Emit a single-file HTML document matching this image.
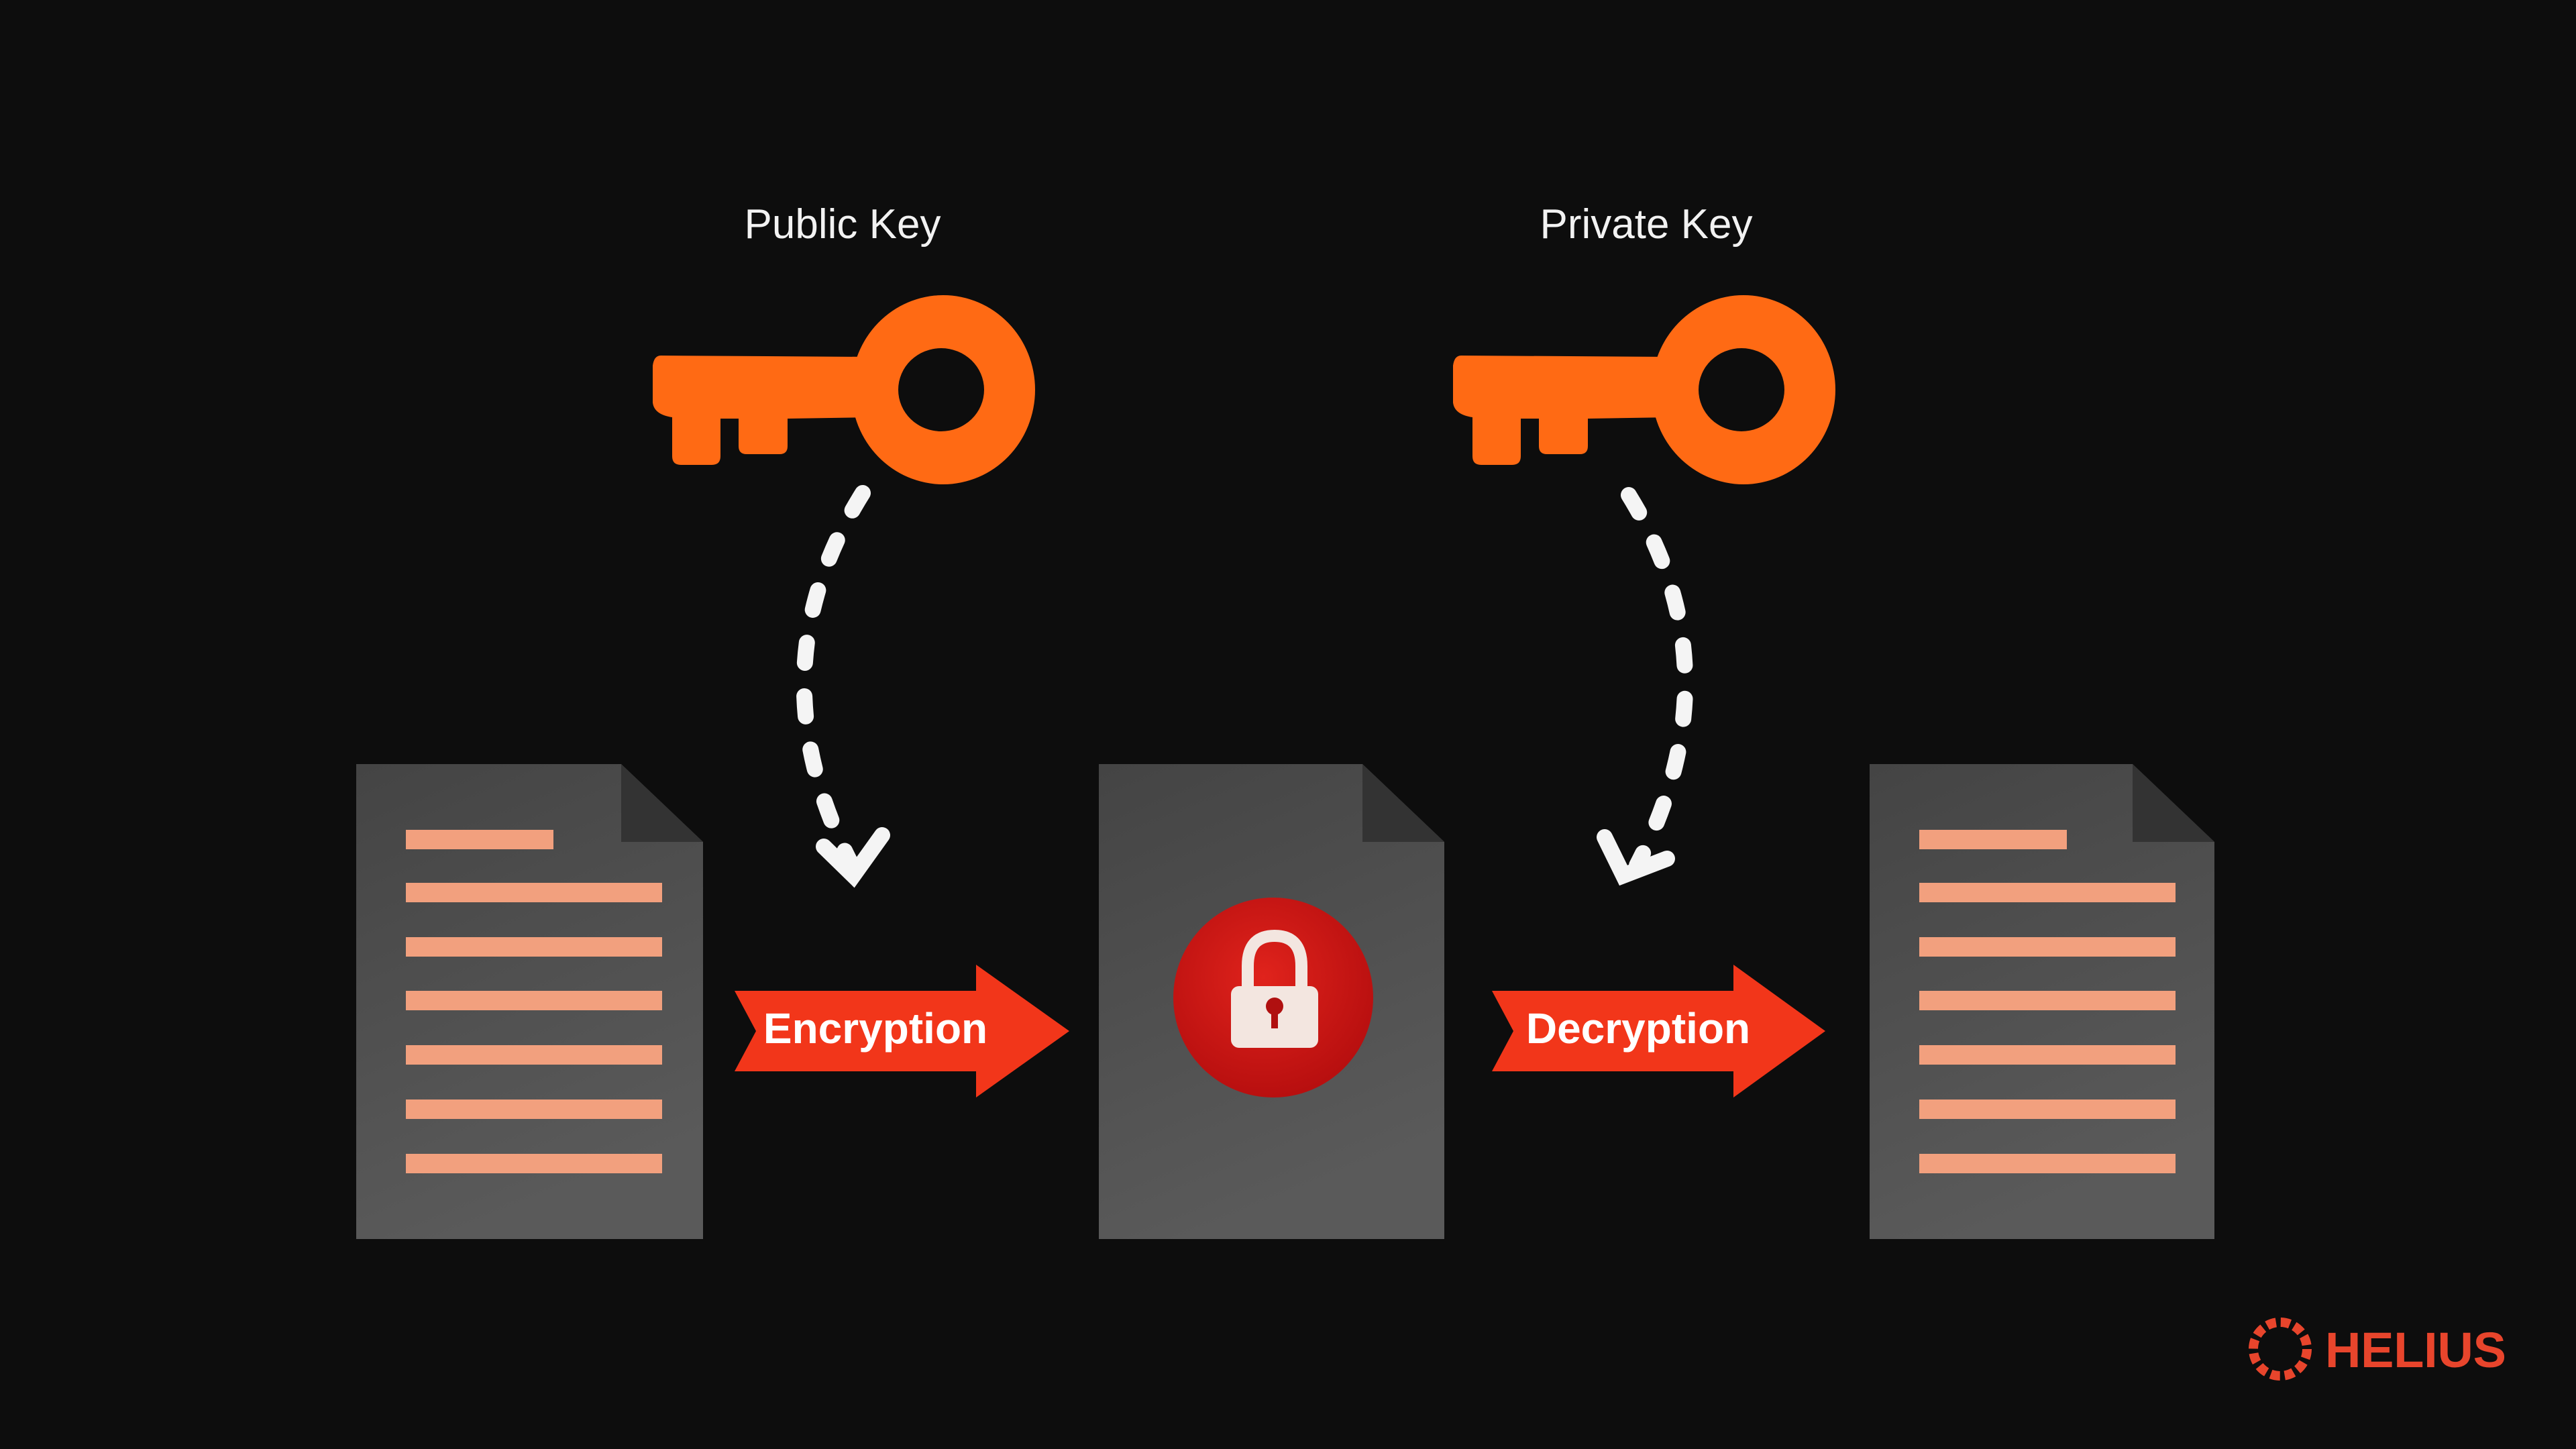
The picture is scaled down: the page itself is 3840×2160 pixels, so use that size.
<!DOCTYPE html>
<html><head><meta charset="utf-8"><style>
html,body{margin:0;padding:0;background:#0d0d0d;}
svg{display:block}
</style></head><body>
<svg width="3840" height="2160" viewBox="0 0 3840 2160" xmlns="http://www.w3.org/2000/svg">
<defs>
<linearGradient id="doc" x1="0" y1="0" x2="0.3" y2="1">
<stop offset="0" stop-color="#444"/><stop offset="1" stop-color="#5a5a5a"/>
</linearGradient>
<radialGradient id="lock" cx="0.45" cy="0.4" r="0.6">
<stop offset="0" stop-color="#e0231c"/><stop offset="1" stop-color="#b80f0f"/>
</radialGradient>
<g id="key">
<path d="M985 530 L1300 532 L1300 622 L1174 624 L1174 665 Q1174 677 1162 677 L1113 677 Q1101 677 1101 665 L1101 624 L1074 624 L1074 680 Q1074 693 1061 693 L1015 693 Q1002 693 1002 680 L1002 622 Q975 618 973 600 L973 545 Q975 530 985 530 Z" fill="#ff6a14"/>
<path fill-rule="evenodd" fill="#ff6a14" d="M1269 581 a137 141 0 1 0 274 0 a137 141 0 1 0 -274 0 Z M1339 581 a64 62 0 1 1 128 0 a64 62 0 1 1 -128 0 Z"/>
</g>
<g id="doclines" fill="#f2a07e">
<rect x="605" y="1237" width="220" height="29"/>
<rect x="605" y="1316" width="382" height="29"/>
<rect x="605" y="1397" width="382" height="29"/>
<rect x="605" y="1477" width="382" height="29"/>
<rect x="605" y="1558" width="382" height="29"/>
<rect x="605" y="1639" width="382" height="29"/>
<rect x="605" y="1720" width="382" height="29"/>
</g>
</defs>
<rect width="3840" height="2160" fill="#0d0d0d"/>

<text x="1256" y="355" font-family="Liberation Sans, sans-serif" font-size="62" fill="#f2f2f2" text-anchor="middle">Public Key</text>
<text x="2454" y="355" font-family="Liberation Sans, sans-serif" font-size="62" fill="#f2f2f2" text-anchor="middle">Private Key</text>

<use href="#key"/>
<use href="#key" transform="translate(1193,0)"/>

<g fill="none" stroke="#f4f4f4" stroke-width="24" stroke-linecap="round">
<path d="M1286 735 Q1120 1000 1270 1290" stroke-dasharray="30 50"/>
<path d="M1228 1262 L1272 1305 L1315 1245"/>
<path d="M2428 738 Q2590 1000 2440 1290" stroke-dasharray="30 50"/>
<path d="M2392 1248 L2420 1305 L2485 1280"/>
</g>

<path d="M531 1139 L926 1139 L1048 1255 L1048 1847 L531 1847 Z" fill="url(#doc)"/>
<path d="M926 1139 L926 1255 L1048 1255 Z" fill="#333"/>
<use href="#doclines"/>

<path d="M1638 1139 L2031 1139 L2153 1255 L2153 1847 L1638 1847 Z" fill="url(#doc)"/>
<path d="M2031 1139 L2031 1255 L2153 1255 Z" fill="#333"/>
<circle cx="1898" cy="1487" r="149" fill="url(#lock)"/>
<path d="M1860 1490 L1860 1440 Q1860 1395 1900 1395 Q1940 1395 1940 1440 L1940 1490" fill="none" stroke="#f3e6e0" stroke-width="18"/>
<rect x="1835" y="1470" width="130" height="92" rx="12" fill="#f3e6e0"/>
<circle cx="1900" cy="1500" r="13" fill="#b01010"/>
<rect x="1895" y="1505" width="10" height="28" fill="#b01010"/>

<path d="M2787 1139 L3179 1139 L3301 1255 L3301 1847 L2787 1847 Z" fill="url(#doc)"/>
<path d="M3179 1139 L3179 1255 L3301 1255 Z" fill="#333"/>
<use href="#doclines" transform="translate(2256,0)"/>

<path d="M1095 1477 L1455 1477 L1455 1438 L1594 1537 L1455 1636 L1455 1597 L1095 1597 L1127 1537 Z" fill="#f2361a"/>
<text x="1305" y="1555" font-family="Liberation Sans, sans-serif" font-weight="bold" font-size="64" fill="#fff" text-anchor="middle">Encryption</text>
<path d="M2224 1477 L2584 1477 L2584 1438 L2721 1537 L2584 1636 L2584 1597 L2224 1597 L2256 1537 Z" fill="#f2361a"/>
<text x="2442" y="1555" font-family="Liberation Sans, sans-serif" font-weight="bold" font-size="64" fill="#fff" text-anchor="middle">Decryption</text>

<g transform="translate(3399,2011)">
<circle r="40" fill="none" stroke="#e8452c" stroke-width="14" stroke-dasharray="14 7"/>
</g>
<text x="3466" y="2038" font-family="Liberation Sans, sans-serif" font-weight="bold" font-size="74" fill="#e8452c" letter-spacing="2" textLength="272">HELIUS</text>
</svg>
</body></html>
